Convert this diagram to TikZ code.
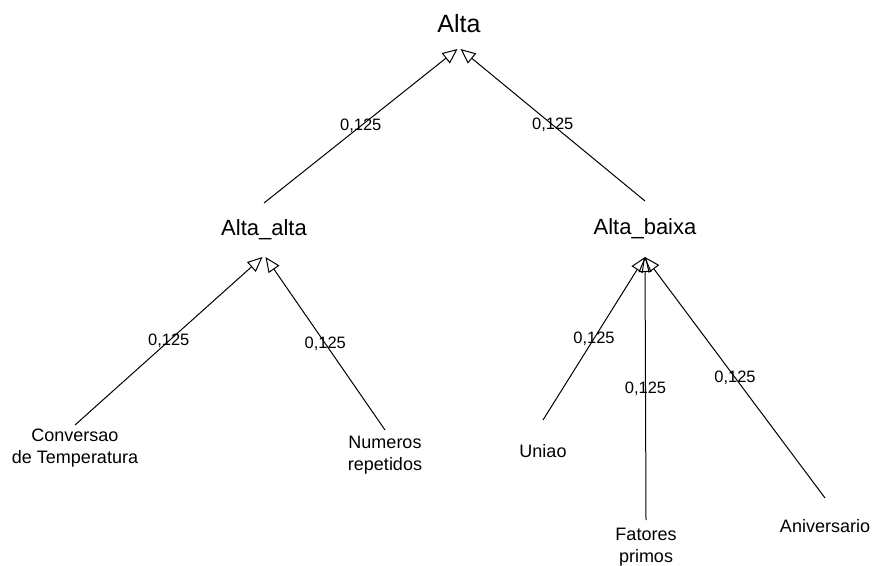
\documentclass[tikz,border=0pt]{standalone}
\usepackage{fontspec}
\setmainfont{Liberation Sans}
\usetikzlibrary{arrows.meta}

\tikzset{
  treebox/.style={inner sep=0pt, outer sep=0pt, align=center},
  rootlbl/.style={treebox, font=\fontsize{25}{30}\selectfont},
  midlbl/.style={treebox, font=\fontsize{22}{26}\selectfont},
  leaflbl/.style={treebox, font=\fontsize{18}{21.5}\selectfont},
  weight/.style={inner sep=0pt, font=\fontsize{16.5}{20}\selectfont},
  link/.style={line width=1pt, -{Triangle[open, length=15pt, width=13pt, line width=1pt]}},
}

\begin{document}
\begin{tikzpicture}[x=1pt, y=-1pt]
  \useasboundingbox (0,0) rectangle (872,565);

  % hierarchy nodes (box heights place the anchors where the links meet)
  \node[rootlbl, minimum height=50pt] (alta) at (459,24) {Alta};
  \node[midlbl, minimum height=54pt] (aa) at (264,230) {Alta\_alta};
  \node[midlbl, minimum height=56pt] (ab) at (645,229) {Alta\_baixa};

  % leaves
  \node[leaflbl, minimum height=46pt] (conv) at (75,448) {Conversao\\de Temperatura};
  \node[leaflbl, minimum height=50pt] (num) at (385,455) {Numeros\\repetidos};
  \node[leaflbl, minimum height=62pt] (uni) at (543,451) {Uniao};
  \node[leaflbl, minimum height=54pt] (fat) at (646,547) {Fatores\\primos};
  \node[leaflbl, minimum height=56pt] (ani) at (825,526) {Aniversario};

  % weighted links, child to parent
  \draw[link] (aa.north) -- node[weight] {0,125} ([xshift=-1.5pt]alta.south);
  \draw[link] (ab.north) -- node[weight] {0,125} ([xshift=1.5pt]alta.south);

  \draw[link] (conv.north) -- node[weight] {0,125} ([xshift=-1.5pt]aa.south);
  \draw[link] (num.north) -- node[weight] {0,125} ([xshift=1.5pt]aa.south);

  \draw[link] (uni.north) -- node[weight] {0,125} (ab.south);
  \draw[link] (fat.north) -- node[weight] {0,125} (ab.south);
  \draw[link] (ani.north) -- node[weight] {0,125} (ab.south);
\end{tikzpicture}
\end{document}
